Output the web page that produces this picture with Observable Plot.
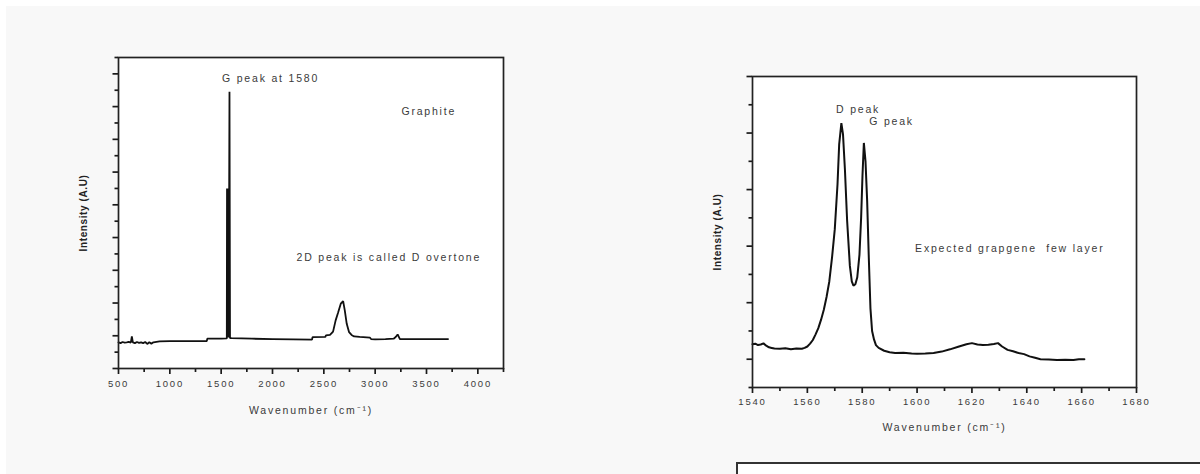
<!DOCTYPE html>
<html>
<head>
<meta charset="utf-8">
<script src="https://cdn.jsdelivr.net/npm/d3@7"></script>
<script src="https://cdn.jsdelivr.net/npm/@observablehq/plot@0.6"></script>
<style>
  html, body { margin: 0; padding: 0; background: #ffffff; }
  #page { position: relative; width: 1200px; height: 474px; overflow: hidden; background: #ffffff; }
  #bg { position: absolute; left: 6px; top: 6px; width: 1194px; height: 468px; background: #f8f8f8; }
  .chart { position: absolute; top: 0; }
  #box { position: absolute; left: 736px; top: 462px; width: 520px; height: 40px; border: 2px solid #333; background: #fff; box-sizing: border-box; }
</style>
</head>
<body>
<div id="page">
  <div id="bg"></div>
  <div id="left" class="chart" style="left:0px"></div>
  <div id="right" class="chart" style="left:640px"></div>
  <div id="box"></div>
</div>
<script>
// ---------- Left chart: Graphite ----------
const leftWave = [500, 520, 540, 560, 580, 600, 620, 630, 640, 660, 680, 700, 720, 740, 760, 780, 800, 820, 840, 900, 1000, 1100, 1200, 1300, 1360, 1365, 1400, 1500, 1555, 1557, 1560, 1563, 1566, 1569, 1572, 1575, 1578, 1581, 1583, 1586, 1600, 1800, 2000, 2200, 2385, 2390, 2515, 2520, 2560, 2590, 2615, 2640, 2665, 2688, 2704, 2723, 2746, 2770, 2795, 2850, 2950, 2960, 3000, 3100, 3180, 3200, 3219, 3241, 3300, 3500, 3710];
const leftIntensity = [1.60, 1.55, 1.62, 1.58, 1.60, 1.63, 1.58, 1.96, 1.60, 1.55, 1.62, 1.57, 1.60, 1.55, 1.62, 1.50, 1.60, 1.52, 1.60, 1.66, 1.67, 1.67, 1.67, 1.67, 1.67, 1.82, 1.82, 1.83, 1.84, 11.0, 1.90, 11.0, 1.90, 11.0, 1.90, 11.0, 11.0, 16.9, 11.0, 1.86, 1.85, 1.82, 1.80, 1.78, 1.76, 1.92, 1.93, 2.02, 2.05, 2.25, 2.94, 3.44, 3.96, 4.12, 3.55, 2.73, 2.22, 2.05, 1.96, 1.93, 1.88, 1.80, 1.78, 1.80, 1.82, 1.92, 2.08, 1.80, 1.80, 1.80, 1.80];
const leftXMajor = [500, 1000, 1500, 2000, 2500, 3000, 3500, 4000];
const leftXMinor = [750, 1250, 1750, 2250, 2750, 3250, 3750, 4250];
const leftYMajor = [0, 2, 4, 6, 8, 10, 12, 14, 16, 18];
const leftYMinor = [1, 3, 5, 7, 9, 11, 13, 15, 17, 19];
const leftNotes = ["G peak at 1580", "Graphite", "2D peak is called D overtone"];
const leftNoteX = [1981, 3522, 3133];
const leftNoteY = [17.7, 15.7, 6.8];

// ---------- Right chart: few-layer graphene ----------
const rightWave = [1540, 1541, 1542, 1543, 1544, 1545, 1546, 1547, 1548, 1550, 1552, 1554, 1556, 1558, 1559, 1560, 1561, 1562, 1563, 1564, 1565, 1566, 1567, 1568, 1569, 1570, 1571, 1571.6, 1572.4, 1573, 1573.7, 1574.5, 1575.5, 1576.2, 1576.8, 1577.5, 1578.2, 1579, 1579.6, 1580.1, 1580.6, 1581.2, 1581.8, 1582.4, 1583, 1583.6, 1584.3, 1585, 1586, 1588, 1590, 1592, 1595, 1598, 1600, 1603, 1606, 1609, 1612, 1615, 1618, 1620, 1622, 1624, 1626, 1628, 1629.5, 1631, 1633, 1635, 1637, 1639, 1641, 1643, 1645, 1648, 1651, 1654, 1657, 1659, 1661];
const rightIntensity = [1.53, 1.55, 1.50, 1.52, 1.56, 1.48, 1.42, 1.40, 1.38, 1.37, 1.39, 1.35, 1.38, 1.37, 1.40, 1.45, 1.55, 1.68, 1.88, 2.10, 2.40, 2.75, 3.20, 3.75, 4.60, 5.60, 7.20, 8.60, 9.35, 8.95, 7.70, 5.90, 4.30, 3.75, 3.60, 3.65, 3.90, 4.70, 6.00, 7.50, 8.65, 8.00, 6.60, 4.60, 2.80, 2.00, 1.70, 1.50, 1.40, 1.30, 1.25, 1.22, 1.23, 1.20, 1.19, 1.20, 1.22, 1.27, 1.35, 1.44, 1.53, 1.57, 1.52, 1.50, 1.51, 1.54, 1.57, 1.45, 1.33, 1.28, 1.22, 1.18, 1.10, 1.05, 1.00, 0.99, 0.97, 0.98, 0.97, 1.00, 1.00];
const rightXMajor = [1540, 1560, 1580, 1600, 1620, 1640, 1660, 1680];
const rightXMinor = [1550, 1570, 1590, 1610, 1630, 1650, 1670];
const rightYMajor = [1, 3, 5, 7, 9, 11];
const rightYMinor = [0, 2, 4, 6, 8, 10];
const rightNotes = ["D peak", "G peak", "Expected grapgene  few layer"];
const rightNoteX = [1578.5, 1590.7, 1633.8];
const rightNoteY = [9.82, 9.39, 4.92];

const xTitle = "Wavenumber (cm⁻¹)";
const yTitle = "Intensity (A.U)";

const FONT = "'Liberation Sans', Arial, sans-serif";
const INK = "#3a3a3a";
const noLabel = () => "";

function spectrum({wave, inten, xDomain, yDomain, xMajor, xMinor, yMajor, yMinor, notes, noteX, noteY,
                   width, height, mL, mR, mT, mB, yTitleDx, xTitleDy, tickPad, lineWidth}) {
  const data = wave.map((w, i) => ({w, v: inten[i]}));
  const ann = notes.map((t, i) => ({t, x: noteX[i], y: noteY[i]}));
  const svg = Plot.plot({
    width, height,
    marginLeft: mL, marginRight: mR, marginTop: mT, marginBottom: mB,
    style: {background: "transparent", fontFamily: FONT, color: INK, letterSpacing: "1.8px"},
    x: {domain: xDomain},
    y: {domain: yDomain},
    marks: [
      Plot.frame({fill: "white"}),
      Plot.axisX({ticks: xMinor, tickSize: 4, tickFormat: noLabel, label: null, stroke: "#1a1a1a", strokeWidth: 1.7}),
      Plot.axisX({ticks: xMajor, tickSize: 6, tickPadding: tickPad, tickFormat: d => String(d), label: null,
                  stroke: "#1a1a1a", strokeWidth: 1.7, fontSize: 9.5, fill: INK}),
      Plot.axisY({ticks: yMinor, tickSize: 3.5, tickFormat: noLabel, label: null, stroke: "#1a1a1a", strokeWidth: 1.7}),
      Plot.axisY({ticks: yMajor, tickSize: 5.5, tickFormat: noLabel, label: null, stroke: "#1a1a1a", strokeWidth: 1.7}),
      Plot.line(data, {x: "w", y: "v", stroke: "#111", strokeWidth: lineWidth, strokeLinejoin: "miter"}),
      Plot.frame({stroke: "#222", strokeWidth: 1.7}),
      Plot.text(ann, {x: "x", y: "y", text: "t", fontSize: 10.5, fill: INK, textAnchor: "middle", lineAnchor: "middle"}),
      Plot.text([xTitle], {frameAnchor: "bottom", dy: xTitleDy, text: d => d, fontSize: 10.5, fill: INK, textAnchor: "middle", lineAnchor: "middle"}),
      Plot.text([yTitle], {frameAnchor: "left", dx: yTitleDx, text: d => d, rotate: -90, fontSize: 10, fontWeight: "bold",
                           fill: "#222", textAnchor: "middle", lineAnchor: "middle"})
    ]
  });
  d3.select(svg).selectAll("text").filter(function() { return this.textContent === yTitle; })
    .style("letter-spacing", "0.6px");
  return svg;
}

document.getElementById("left").append(spectrum({
  wave: leftWave, inten: leftIntensity, xDomain: [500, 4250], yDomain: [0, 19],
  xMajor: leftXMajor, xMinor: leftXMinor, yMajor: leftYMajor, yMinor: leftYMinor,
  notes: leftNotes, noteX: leftNoteX, noteY: leftNoteY,
  width: 560, height: 450, mL: 118, mR: 57, mT: 57, mB: 82, yTitleDx: -35, xTitleDy: 42, tickPad: 6, lineWidth: 1.8
}));

document.getElementById("right").append(spectrum({
  wave: rightWave, inten: rightIntensity, xDomain: [1540, 1680], yDomain: [0, 11],
  xMajor: rightXMajor, xMinor: rightXMinor, yMajor: rightYMajor, yMinor: rightYMinor,
  notes: rightNotes, noteX: rightNoteX, noteY: rightNoteY,
  width: 560, height: 450, mL: 112, mR: 64, mT: 76, mB: 63, yTitleDx: -35, xTitleDy: 40, tickPad: 5, lineWidth: 2
}));
</script>
</body>
</html>
